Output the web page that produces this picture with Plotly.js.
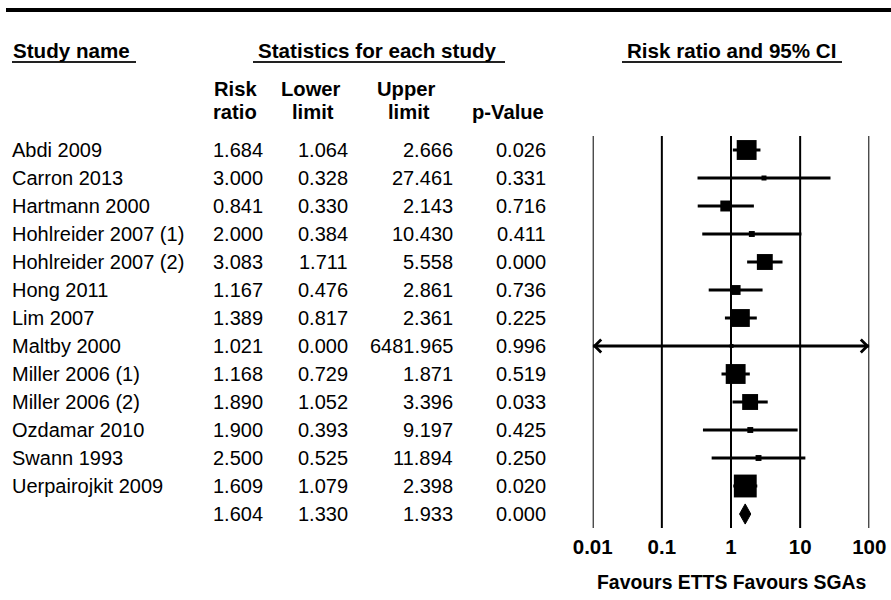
<!DOCTYPE html>
<html>
<head>
<meta charset="utf-8">
<script src="https://cdn.plot.ly/plotly-3.0.1.min.js"></script>
<style>html,body{margin:0;padding:0;background:#fff;}#chart{width:891px;height:600px;}</style>
</head>
<body>
<div id="chart"></div>
<script>
// ---------- data ----------
const studies = ["Abdi 2009", "Carron 2013", "Hartmann 2000", "Hohlreider 2007 (1)", "Hohlreider 2007 (2)",
  "Hong 2011", "Lim 2007", "Maltby 2000", "Miller 2006 (1)", "Miller 2006 (2)", "Ozdamar 2010",
  "Swann 1993", "Uerpairojkit 2009"];
const riskRatio  = [1.684, 3.000, 0.841, 2.000, 3.083, 1.167, 1.389, 1.021, 1.168, 1.890, 1.900, 2.500, 1.609];
const lowerLimit = [1.064, 0.328, 0.330, 0.384, 1.711, 0.476, 0.817, 0.000, 0.729, 1.052, 0.393, 0.525, 1.079];
const upperLimit = [2.666, 27.461, 2.143, 10.430, 5.558, 2.861, 2.361, 6481.965, 1.871, 3.396, 9.197, 11.894, 2.398];
const pValue     = [0.026, 0.331, 0.716, 0.411, 0.000, 0.736, 0.225, 0.996, 0.519, 0.033, 0.425, 0.250, 0.020];
// relative study weights (%), estimated from the square areas
const weights    = [15.8, 1.0, 4.8, 1.4, 10.1, 3.9, 12.8, 0.6, 15.8, 10.1, 1.4, 1.4, 20.9];
const summaryRR = 1.604, summaryLower = 1.330, summaryUpper = 1.933, summaryP = 0.000;
const tickValues = [0.01, 0.1, 1, 10, 100];
const tickLabels = ["0.01", "0.1", "1", "10", "100"];
const headerLabels = ["Study name", "Statistics for each study", "Risk ratio and 95% CI"];
const axisLabel = "Favours ETTS Favours SGAs";

// ---------- helpers ----------
const W = 891, H = 600;
const px = v => v / W;            // x pixel -> paper
const py = v => 1 - v / H;        // y pixel -> paper
const FONT = "Liberation Sans, Arial, Helvetica, sans-serif";
const xMin = tickValues[0], xMax = tickValues[tickValues.length - 1];
const nRows = studies.length + 1;

// vertical reference lines at each tick
const vX = [], vY = [];
tickValues.forEach(t => { vX.push(t, t, null); vY.push(-0.5, nRows - 0.5, null); });
const refTrace = {x: vX, y: vY, type: 'scatter', mode: 'lines', line: {color: '#000', width: 2},
  hoverinfo: 'skip', cliponaxis: false};

// CI lines (clipped to axis range)
const ciX = [], ciY = [];
const annotations = [];
studies.forEach((s, i) => {
  const lo = Math.max(lowerLimit[i], xMin), hi = Math.min(upperLimit[i], xMax);
  ciX.push(lo, hi, null); ciY.push(i, i, null);
  if (lowerLimit[i] < xMin) annotations.push({x: Math.log10(xMin), y: i, xref: 'x', yref: 'y', ax: 16, ay: 0,
    showarrow: true, arrowhead: 4, arrowsize: 1.25, arrowwidth: 2, arrowcolor: '#000', text: ''});
  if (upperLimit[i] > xMax) annotations.push({x: Math.log10(xMax), y: i, xref: 'x', yref: 'y', ax: -16, ay: 0,
    showarrow: true, arrowhead: 4, arrowsize: 1.25, arrowwidth: 2, arrowcolor: '#000', text: ''});
});

const ciTrace = {x: ciX, y: ciY, type: 'scatter', mode: 'lines', line: {color: '#000', width: 3},
  hoverinfo: 'skip', cliponaxis: false};
const sqTrace = {x: riskRatio, y: studies.map((s, i) => i), type: 'scatter', mode: 'markers',
  marker: {symbol: 'square', color: '#000', opacity: 1, size: weights.map(w => 5 * Math.sqrt(w)), line: {width: 0}},
  cliponaxis: false};
const sIdx = studies.length;
const diamondTrace = {x: [summaryLower, summaryRR, summaryUpper, summaryRR, summaryLower],
  y: [sIdx, sIdx - 0.36, sIdx, sIdx + 0.36, sIdx], type: 'scatter', mode: 'lines', fill: 'toself',
  fillcolor: '#000', line: {color: '#000', width: 1}, cliponaxis: false};

// table text
const bodyFont = {family: FONT, size: 20, color: '#000'};
const boldFont = {family: FONT, size: 20.6, color: '#000', weight: 'bold'};
const subFont = {family: FONT, size: 20.2, color: '#000', weight: 'bold'};
const colRight = [264, 349, 454, 547];
studies.forEach((s, i) => {
  annotations.push({x: px(10), y: i, xref: 'paper', yref: 'y', xanchor: 'left', yanchor: 'middle',
    text: s, showarrow: false, font: bodyFont});
});
const rowVals = studies.map((s, i) => [riskRatio[i], lowerLimit[i], upperLimit[i], pValue[i]]);
rowVals.push([summaryRR, summaryLower, summaryUpper, summaryP]);
rowVals.forEach((vals, i) => {
  vals.forEach((v, c) => annotations.push({x: px(colRight[c] + 1), y: i, xref: 'paper', yref: 'y',
    xanchor: 'right', yanchor: 'middle', text: v.toFixed(3), showarrow: false, font: bodyFont}));
});

// headers
const headerX = [11, 256, 625];
headerLabels.forEach((t, k) => annotations.push({x: px(headerX[k]), y: py(50), xref: 'paper', yref: 'paper',
  xanchor: 'left', yanchor: 'middle', text: t, showarrow: false, font: boldFont}));
const subHeads = [["Risk", 235, 89], ["ratio", 235, 112], ["Lower", 311, 89], ["limit", 313, 112],
  ["Upper", 406, 89], ["limit", 409, 112], ["p-Value", 508, 112]];
subHeads.forEach(([t, x, y]) => annotations.push({x: px(x), y: py(y), xref: 'paper', yref: 'paper',
  xanchor: 'center', yanchor: 'middle', text: t, showarrow: false, font: subFont}));
annotations.push({x: 0, y: py(582), xref: 'x', yref: 'paper', xanchor: 'center', yanchor: 'middle',
  text: axisLabel, showarrow: false, font: {family: FONT, size: 19.4, color: '#000', weight: 'bold'}});

const shapes = [
  {type: 'line', xref: 'paper', yref: 'paper', x0: px(6), x1: 1, y0: py(10), y1: py(10), line: {color: '#000', width: 4}},
  {type: 'line', xref: 'paper', yref: 'paper', x0: px(12), x1: px(136), y0: py(62), y1: py(62), line: {color: '#222', width: 2}},
  {type: 'line', xref: 'paper', yref: 'paper', x0: px(253), x1: px(505), y0: py(62), y1: py(62), line: {color: '#222', width: 2}},
  {type: 'line', xref: 'paper', yref: 'paper', x0: px(622), x1: px(842), y0: py(62), y1: py(62), line: {color: '#222', width: 2}}
];

const layout = {
  width: W, height: H, margin: {l: 0, r: 0, t: 0, b: 0}, showlegend: false,
  paper_bgcolor: '#fff', plot_bgcolor: '#fff',
  xaxis: {type: 'log', range: [Math.log10(xMin), Math.log10(xMax)], domain: [px(592.7), px(869.3)],
    tickvals: tickValues, ticktext: tickLabels, showgrid: false,
    zeroline: false, showline: false, ticks: '', ticklabelstandoff: 4,
    tickfont: {family: FONT, size: 20.5, color: '#000', weight: 'bold'}, fixedrange: true},
  yaxis: {range: [nRows - 0.5, -0.5], domain: [py(528), py(136)], showgrid: false, zeroline: false,
    showline: false, showticklabels: false, ticks: '', fixedrange: true},
  annotations: annotations, shapes: shapes
};

Plotly.newPlot('chart', [refTrace, ciTrace, sqTrace, diamondTrace], layout, {staticPlot: true, displayModeBar: false});
</script>
</body>
</html>
